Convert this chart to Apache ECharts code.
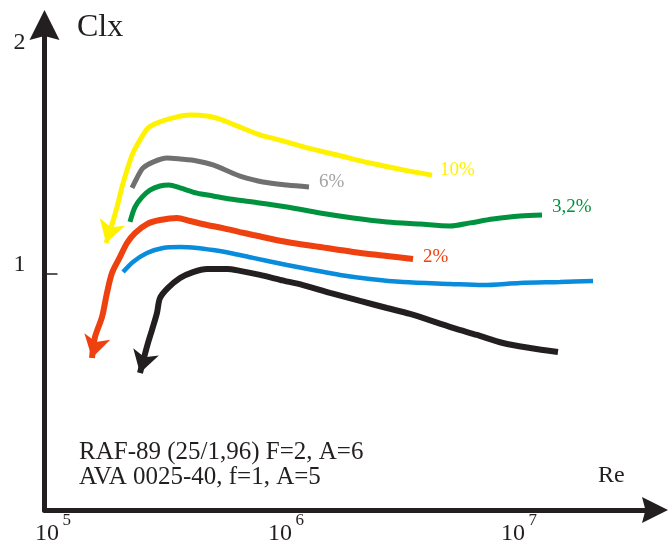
<!DOCTYPE html>
<html>
<head>
<meta charset="utf-8">
<script src="https://cdn.jsdelivr.net/npm/echarts@6/dist/echarts.min.js"></script>
<style>
  html, body { margin: 0; padding: 0; background: #ffffff; }
  #chart { width: 668px; height: 547px; }
</style>
</head>
<body>
<div id="chart"></div>
<script>
// Lift coefficient Clx against Reynolds number (log scale), one curve per relative thickness.
// Each curve is a list of [Re, Clx] pairs; the first pair carries the arrow head where one is drawn.

const curve10 = [
  [1.689e5, 1.129], [1.770e5, 1.190], [1.882e5, 1.281], [1.978e5, 1.366],
  [2.078e5, 1.438], [2.204e5, 1.510], [2.362e5, 1.564], [2.556e5, 1.615],
  [2.878e5, 1.641], [3.406e5, 1.662], [3.873e5, 1.670], [4.581e5, 1.666],
  [5.210e5, 1.653], [6.163e5, 1.624], [7.734e5, 1.586], [9.424e5, 1.564],
  [1.231e6, 1.531], [1.656e6, 1.501], [2.293e6, 1.467], [3.178e6, 1.438],
  [4.233e6, 1.416]
];

const curve6 = [
  [2.183e5, 1.362], [2.293e5, 1.404], [2.433e5, 1.446], [2.685e5, 1.471],
  [3.085e5, 1.488], [3.509e5, 1.484], [4.150e5, 1.476], [4.861e5, 1.459],
  [5.751e5, 1.429], [6.347e5, 1.412], [7.966e5, 1.387], [1.010e6, 1.374],
  [1.255e6, 1.366]
];

const curve32 = [
  [2.140e5, 1.218], [2.248e5, 1.281], [2.410e5, 1.323], [2.607e5, 1.353],
  [2.878e5, 1.370], [3.147e5, 1.374], [3.509e5, 1.362], [4.150e5, 1.340],
  [4.861e5, 1.328], [5.751e5, 1.315], [7.219e5, 1.302], [1.010e6, 1.281],
  [1.399e6, 1.256], [1.940e6, 1.235], [2.713e6, 1.218], [3.759e6, 1.209],
  [5.057e6, 1.201], [6.163e6, 1.214], [7.734e6, 1.230], [1.010e7, 1.243],
  [1.255e7, 1.247]
];

const curve2 = [
  [1.470e5, 0.643], [1.514e5, 0.731], [1.623e5, 0.816], [1.705e5, 0.918],
  [1.791e5, 1.002], [1.939e5, 1.070], [2.078e5, 1.129], [2.248e5, 1.171],
  [2.531e5, 1.209], [2.878e5, 1.226], [3.406e5, 1.235], [3.873e5, 1.222],
  [4.581e5, 1.205], [5.367e5, 1.192], [6.347e5, 1.175], [7.219e5, 1.163],
  [1.010e6, 1.133], [1.399e6, 1.112], [1.940e6, 1.091], [2.713e6, 1.074],
  [3.509e6, 1.061]
];

const curveAva = [
  [1.998e5, 1.006], [2.204e5, 1.049], [2.531e5, 1.087], [2.965e5, 1.108],
  [3.509e5, 1.112], [4.150e5, 1.108], [4.861e5, 1.099], [5.751e5, 1.087],
  [7.219e5, 1.066], [1.010e6, 1.036], [1.306e6, 1.015], [1.705e6, 0.994],
  [2.293e6, 0.977], [3.178e6, 0.964], [5.057e6, 0.956], [7.004e6, 0.951],
  [1.010e7, 0.960], [1.500e7, 0.964], [2.078e7, 0.968]
];

const curveRaf = [
  [2.362e5, 0.579], [2.556e5, 0.706], [2.659e5, 0.761], [2.794e5, 0.833],
  [2.878e5, 0.896], [3.116e5, 0.939], [3.509e5, 0.981], [3.990e5, 1.006],
  [4.581e5, 1.019], [5.583e5, 1.019], [6.347e5, 1.011], [7.734e5, 0.994],
  [9.424e5, 0.973], [1.183e6, 0.951], [1.545e6, 0.918], [2.078e6, 0.884],
  [2.713e6, 0.854], [3.406e6, 0.829], [5.210e6, 0.770], [6.602e6, 0.740],
  [8.538e6, 0.706], [1.115e7, 0.685], [1.470e7, 0.668]
];

const curveNames = ['10%', '6%', '3,2%', '2%'];
const yLabelValues = [1, 2];
const noteLines = ['RAF-89 (25/1,96) F=2, A=6', 'AVA 0025-40, f=1, A=5'];

const ink = '#231f20';
const serif = '"Liberation Serif", "Times New Roman", serif';
const axisArrow = 'path://M15,0L30,30L15,26L0,30Z';

const reMin = Math.pow(10, 4.9635);
const reMax = Math.pow(10, 7.5837);
const clxMax = 2.0507;

function withArrow(points, rotate) {
  return points.map(function (p, i) {
    if (i !== 0) return p;
    return { value: p, symbol: 'arrow', symbolSize: [20, 22], symbolRotate: rotate };
  });
}

function curve(points, color, width, opts) {
  opts = opts || {};
  const s = {
    type: 'line',
    data: opts.arrow != null ? withArrow(points, opts.arrow) : points,
    smooth: 0.3,
    symbol: 'none',
    showSymbol: true,
    silent: true,
    lineStyle: { color: color, width: width },
    itemStyle: { color: color }
  };
  if (opts.label) {
    s.endLabel = {
      show: true,
      formatter: opts.label,
      color: opts.labelColor || color,
      fontFamily: serif,
      fontSize: 19,
      distance: 0,
      offset: opts.labelOffset
    };
  }
  return s;
}

const chart = echarts.init(document.getElementById('chart'), null, { renderer: 'canvas' });

chart.setOption({
  animation: false,
  backgroundColor: '#ffffff',
  grid: { left: 44.5, right: 13, top: 25, bottom: 37, outerBoundsMode: 'none' },
  xAxis: {
    type: 'log',
    logBase: 10,
    min: reMin,
    max: reMax,
    axisLine: {
      show: true, onZero: false,
      symbol: ['none', axisArrow], symbolSize: [26, 26],
      lineStyle: { color: ink, width: 5 }
    },
    axisTick: { show: false },
    minorTick: { show: false },
    splitLine: { show: false },
    axisLabel: {
      showMinLabel: false,
      showMaxLabel: false,
      margin: 2,
      formatter: function (v) {
        return '{b|10} {s|' + Math.round(Math.log10(v)) + '}';
      },
      rich: {
        b: { fontFamily: serif, fontSize: 24, color: ink, padding: [10, 0, 0, 0], verticalAlign: 'bottom' },
        s: { fontFamily: serif, fontSize: 17, color: ink, verticalAlign: 'top' }
      }
    }
  },
  yAxis: {
    type: 'value',
    min: 0,
    max: clxMax,
    interval: 1,
    axisLine: {
      show: true, onZero: false,
      symbol: ['none', axisArrow], symbolSize: [30, 30],
      lineStyle: { color: ink, width: 5 }
    },
    axisTick: {
      show: true, inside: true, length: 13, customValues: [1],
      lineStyle: { color: ink, width: 1.5 }
    },
    splitLine: { show: false },
    axisLabel: {
      customValues: yLabelValues,
      margin: 19,
      formatter: function (v) { return v === 1 ? '{a|1}' : '{c|2}'; },
      rich: {
        a: { fontFamily: serif, fontSize: 24, color: ink, padding: [0, 0, 17, 0] },
        c: { fontFamily: serif, fontSize: 24, color: ink, padding: [11, 0, 0, 0] }
      }
    }
  },
  graphic: [
    { type: 'text', x: 77, y: 28, silent: true,
      style: { text: 'Clx', fontFamily: serif, fontSize: 32, fill: ink, align: 'left', verticalAlign: 'middle' } },
    { type: 'text', x: 598, y: 476, silent: true,
      style: { text: 'Re', fontFamily: serif, fontSize: 24, fill: ink, align: 'left', verticalAlign: 'middle' } },
    { type: 'text', x: 79, y: 452, silent: true,
      style: { text: noteLines[0], fontFamily: serif, fontSize: 25, fill: ink, align: 'left', verticalAlign: 'middle' } },
    { type: 'text', x: 79, y: 477, silent: true,
      style: { text: noteLines[1], fontFamily: serif, fontSize: 25, fill: ink, align: 'left', verticalAlign: 'middle' } }
  ],
  series: [
    curve(curve10, '#fff200', 5, { arrow: 163, label: curveNames[0], labelOffset: [8, -5] }),
    curve(curve6, '#707070', 5, { label: curveNames[1], labelColor: '#a3a3a3', labelOffset: [10, -5] }),
    curve(curve32, '#00923f', 5, { label: curveNames[2], labelOffset: [10, -8] }),
    curve(curve2, '#ef4110', 6, { arrow: 166, label: curveNames[3], labelOffset: [10, -2] }),
    curve(curveAva, '#0a8cdc', 4.5),
    curve(curveRaf, ink, 6, { arrow: 164 })
  ]
});
</script>
</body>
</html>
